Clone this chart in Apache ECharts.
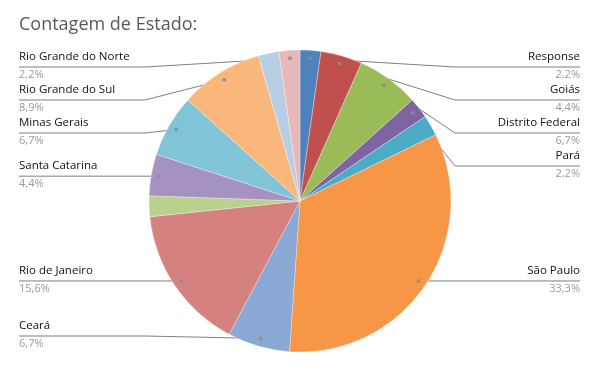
<!DOCTYPE html>
<html><head><meta charset="utf-8">
<script src="https://cdn.jsdelivr.net/npm/echarts@6/dist/echarts.min.js"></script>
<style>html,body{margin:0;padding:0;background:#fff}#c{width:600px;height:371px}</style>
</head><body><div id="c"></div>
<script>
// ---- data ----
const categories = ['Response','Goiás','Distrito Federal','Pará','Outro 1','São Paulo','Ceará','Rio de Janeiro','Outro 2','Santa Catarina','Minas Gerais','Rio Grande do Sul','Outro 3','Rio Grande do Norte'];
const counts = [1,2,3,1,1,15,3,7,1,2,3,4,1,1];
const showLabel = [true,true,true,true,false,true,true,true,false,true,true,true,false,true];
const sliceColors = ['#4F81BD','#C0504D','#9BBB59','#8064A2','#4BACC6','#F79646','#89A8D4','#D4817F','#B9D18C','#A692C1','#82C4D7','#F9B77C','#B9CDE5','#E6B9B8'];
const titleText = 'Contagem de Estado:';

// ---- layout ----
const CX = 300, CY = 201, R = 151, RDOT = 143;
const FONT = 'Open Sans';
const total = counts.reduce((a,b)=>a+b,0);
let cum = 0;
const mids = counts.map(v => { const m = cum + v/2; cum += v; return m; });
const pts = mids.map((m,i) => { const a = m/total*2*Math.PI; return {i, x: CX + RDOT*Math.sin(a), y: CY - RDOT*Math.cos(a), right: Math.sin(a) >= 0}; });
const lineY = {};
function stack(side){
  const arr = pts.filter(p => showLabel[p.i] && p.right === side).sort((a,b)=>a.y-b.y);
  let prev = -Infinity;
  arr.forEach(p => { let y = Math.max(p.y, prev + 33, 67); y = Math.min(y, 336); lineY[p.i] = y; prev = y; });
}
stack(true); stack(false);
const pct = v => (v/total*100).toFixed(1).replace('.', ',') + '%';

const data = categories.map((n,i) => {
  const d = {name: n, value: counts[i], itemStyle: {color: sliceColors[i]}};
  if (!showLabel[i]) { d.label = {show:false}; d.labelLine = {show:false}; }
  return d;
});
const dotData = counts.map((v,i) => showLabel[i] ? [RDOT, mids[i]] : null).filter(x => x);

const chart = echarts.init(document.getElementById('c'), null, {renderer:'canvas'});
chart.setOption({
  animation: false,
  title: {text: titleText, left: 14, top: 11, textStyle: {fontSize: 18, fontWeight: 'normal', color: '#595959', fontFamily: FONT}},
  polar: {center: [CX, CY], radius: R},
  angleAxis: {type: 'value', min: 0, max: total, startAngle: 90, clockwise: true, show: false},
  radiusAxis: {type: 'value', min: 0, max: R, show: false},
  series: [{
    type: 'pie', center: [CX, CY], radius: R, startAngle: 90, clockwise: true,
    avoidLabelOverlap: false, silent: true,
    itemStyle: {borderColor: 'rgba(255,255,255,0.6)', borderWidth: 0.5},
    label: {
      show: true, position: 'outer',
      formatter: p => '{n|' + p.name + '}\n{p|' + pct(p.value) + '}',
      rich: {
        n: {fontSize: 11.5, color: '#111111', lineHeight: 17.5, fontFamily: FONT},
        p: {fontSize: 11, color: '#9a9a9a', lineHeight: 17.5, fontFamily: FONT}
      }
    },
    labelLine: {show: true, length: 10, length2: 10, lineStyle: {color: '#7f7f7f', width: 1}},
    labelLayout: function(p){
      const i = p.dataIndex;
      if (!showLabel[i]) return {};
      const pt = pts[i], ly = lineY[i];
      if (pt.right) {
        return {x: 580, y: ly - 1.25, align: 'right', verticalAlign: 'middle', labelLinePoints: [[pt.x, pt.y],[455, ly],[580, ly]]};
      }
      return {x: 19, y: ly - 1.25, align: 'left', verticalAlign: 'middle', labelLinePoints: [[pt.x, pt.y],[145, ly],[19, ly]]};
    },
    data: data
  },{
    type: 'scatter', coordinateSystem: 'polar', silent: true, z: 10,
    symbolSize: 4, itemStyle: {color: '#8c8c8c'},
    data: dotData
  }]
});
</script>
</body></html>
